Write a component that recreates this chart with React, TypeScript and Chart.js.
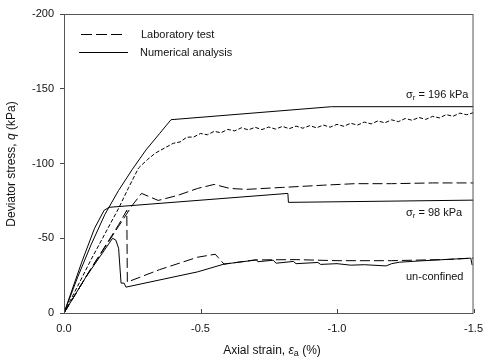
import { useEffect, useRef } from 'react';
import { Chart, registerables } from 'chart.js';
Chart.register(...registerables);

// Axis ticks
const xTickValues = [0, -0.5, -1.0, -1.5];
const yTickValues = [0, -50, -100, -150, -200];

// Numerical analysis, sigma_r = 196 kPa
const num196Strain = [0, -0.05, -0.1, -0.15, -0.2, -0.25, -0.3, -0.35, -0.392, -0.98, -1.5];
const num196Q = [0, -24, -46, -66, -82, -96, -109, -120, -129.3, -138, -138];

// Laboratory test, sigma_r = 196 kPa
const lab196Strain = [0, -0.1, -0.2, -0.237, -0.273, -0.305, -0.335, -0.37, -0.4, -0.425, -0.45, -0.475, -0.5, -0.525, -0.55, -0.575, -0.6, -0.625, -0.65, -0.675, -0.7, -0.725, -0.75, -0.775, -0.8, -0.825, -0.85, -0.875, -0.9, -0.925, -0.95, -0.975, -1.0, -1.025, -1.05, -1.075, -1.1, -1.125, -1.15, -1.175, -1.2, -1.225, -1.25, -1.275, -1.3, -1.325, -1.35, -1.375, -1.4, -1.425, -1.45, -1.475, -1.5];
const lab196Q = [0, -36, -70, -84, -97, -102.5, -107, -110.5, -113.5, -114.4, -117.6, -117.7, -120.1, -119.2, -121.5, -120.6, -122.8, -121.8, -123.9, -122.5, -124.2, -122.7, -124.4, -123.0, -124.8, -123.3, -125.0, -123.6, -125.3, -123.9, -125.7, -124.3, -126.2, -124.9, -126.9, -125.7, -127.7, -126.5, -128.5, -127.2, -129.2, -128.0, -130.1, -128.9, -130.8, -129.5, -131.5, -130.5, -132.7, -131.6, -133.7, -132.6, -134.0];

// Numerical analysis, sigma_r = 98 kPa
const num98Strain = [0, -0.065, -0.112, -0.147, -0.165, -0.82, -0.822, -1.5];
const num98Q = [0, -34, -56.7, -68.7, -70.7, -80, -74, -75.5];

// Laboratory test, sigma_r = 98 kPa
const lab98Strain = [0, -0.1, -0.2, -0.25, -0.284, -0.31, -0.345, -0.417, -0.489, -0.55, -0.608, -0.669, -0.8, -0.95, -1.065, -1.2, -1.35, -1.5];
const lab98Q = [0, -30, -58, -72, -80, -78, -75.3, -78.7, -83.3, -86, -83.3, -82.7, -84, -85.5, -86.5, -86.5, -87, -87];

// Numerical analysis, un-confined
const numUcStrain = [0, -0.08, -0.178, -0.19, -0.2, -0.209, -0.22, -0.227, -0.489, -0.586, -0.705, -0.71, -0.766, -0.777, -0.84, -0.85, -0.93, -0.94, -1.0, -1.05, -1.1, -1.18, -1.2, -1.23, -1.3, -1.4, -1.49, -1.495];
const numUcQ = [0, -24, -50, -48.7, -43.3, -20, -20, -17.3, -27.5, -32.7, -35.5, -34.3, -35.3, -33.3, -34.5, -33, -33.8, -32.5, -33, -32, -32.3, -31.5, -33, -34, -34.8, -35.8, -36.7, -32];

// Laboratory test, un-confined
const labUcStrain = [0, -0.1, -0.2, -0.23, -0.232, -0.35, -0.489, -0.554, -0.586, -0.7, -0.85, -1.0, -1.2, -1.4, -1.5];
const labUcQ = [0, -30, -59, -68.7, -20.7, -29, -37.3, -39.3, -32.7, -35.5, -35.7, -35, -35, -35.8, -36.7];

const FONT = "'Liberation Sans', Arial, sans-serif";

type Part = { t: string; font: string; dy?: number };

function drawRich(ctx: CanvasRenderingContext2D, x: number, y: number, parts: Part[], align: 'left' | 'center') {
  ctx.textBaseline = 'middle';
  ctx.textAlign = 'left';
  let total = 0;
  const widths = parts.map((p) => {
    ctx.font = p.font;
    const w = ctx.measureText(p.t).width;
    total += w;
    return w;
  });
  let cx = align === 'center' ? x - total / 2 : x;
  parts.forEach((p, i) => {
    ctx.font = p.font;
    ctx.fillText(p.t, cx, y + (p.dy || 0));
    cx += widths[i];
  });
}

const decorPlugin = {
  id: 'decor',
  afterDraw(chart: any) {
    const ctx: CanvasRenderingContext2D = chart.ctx;
    const { left, right, top, bottom } = chart.chartArea;
    const xs = chart.scales.x;
    ctx.save();
    // frame
    ctx.strokeStyle = '#555';
    ctx.lineWidth = 1;
    ctx.strokeRect(left + 0.5, top + 0.5, right - left - 1, bottom - top);
    // x ticks (inside)
    ctx.strokeStyle = '#444';
    xTickValues.forEach((v) => {
      const px = Math.round(xs.getPixelForValue(v)) + 0.5;
      ctx.beginPath();
      ctx.moveTo(px, bottom);
      ctx.lineTo(px, bottom - 4);
      ctx.stroke();
    });
    ctx.fillStyle = '#111';
    const n = `11px ${FONT}`;
    const sub = `8px ${FONT}`;
    // curve labels
    drawRich(ctx, 406, 95, [{ t: 'σ', font: n }, { t: 'r', font: sub, dy: 3 }, { t: ' = 196 kPa', font: n }], 'left');
    drawRich(ctx, 406, 213, [{ t: 'σ', font: n }, { t: 'r', font: sub, dy: 3 }, { t: ' = 98 kPa', font: n }], 'left');
    drawRich(ctx, 406, 277, [{ t: 'un-confined', font: n }], 'left');
    // legend
    ctx.strokeStyle = '#000';
    ctx.setLineDash([11, 4]);
    ctx.beginPath();
    ctx.moveTo(81, 34.5);
    ctx.lineTo(126, 34.5);
    ctx.stroke();
    ctx.setLineDash([]);
    ctx.beginPath();
    ctx.moveTo(79, 52.5);
    ctx.lineTo(128, 52.5);
    ctx.stroke();
    drawRich(ctx, 141, 35, [{ t: 'Laboratory test', font: n }], 'left');
    drawRich(ctx, 140, 53, [{ t: 'Numerical analysis', font: n }], 'left');
    // axis titles
    const t = `12px ${FONT}`;
    const ti = `italic 12px ${FONT}`;
    const ts = `9px ${FONT}`;
    drawRich(ctx, 272, 351, [
      { t: 'Axial strain, ', font: t },
      { t: 'ε', font: ti },
      { t: 'a', font: ts, dy: 3 },
      { t: ' (%)', font: t },
    ], 'center');
    ctx.translate(12, 164);
    ctx.rotate(-Math.PI / 2);
    drawRich(ctx, 0, 0, [
      { t: 'Deviator stress, ', font: t },
      { t: 'q', font: ti },
      { t: ' (kPa)', font: t },
    ], 'center');
    ctx.restore();
  },
};

function mk(strain: number[], q: number[], dash: number[]) {
  return {
    data: strain.map((s, i) => ({ x: s, y: q[i] })),
    borderColor: '#000',
    borderWidth: 1,
    borderDash: dash,
    pointRadius: 0,
    tension: 0,
    fill: false,
  };
}

export default function App() {
  const ref = useRef<HTMLCanvasElement>(null);
  useEffect(() => {
    if (!ref.current) return;
    const chart = new Chart(ref.current, {
      type: 'line',
      data: {
        datasets: [
          mk(num196Strain, num196Q, []),
          mk(lab196Strain, lab196Q, [4, 2]),
          mk(num98Strain, num98Q, []),
          mk(lab98Strain, lab98Q, [10, 4]),
          mk(numUcStrain, numUcQ, []),
          mk(labUcStrain, labUcQ, [10, 4]),
        ] as any,
      },
      options: {
        responsive: false,
        animation: false,
        layout: { padding: { left: 0, top: 14, right: 12, bottom: 0 } },
        plugins: { legend: { display: false }, tooltip: { enabled: false } },
        scales: {
          x: {
            type: 'linear',
            min: -1.5,
            max: 0,
            reverse: true,
            afterBuildTicks: (s: any) => {
              s.ticks = xTickValues.map((v) => ({ value: v }));
            },
            afterFit: (s: any) => {
              s.height = 51;
            },
            grid: { display: true, drawOnChartArea: false, drawTicks: false },
            border: { display: false },
            ticks: {
              padding: 9,
              maxRotation: 0,
              autoSkip: false,
              color: '#111',
              font: { family: FONT, size: 11 },
              callback: (v: any) => (Number(v) === 0 ? '0.0' : Number(v).toFixed(1)),
            },
          },
          y: {
            type: 'linear',
            min: -200,
            max: 0,
            reverse: true,
            afterBuildTicks: (s: any) => {
              s.ticks = yTickValues.map((v) => ({ value: v }));
            },
            afterFit: (s: any) => {
              s.width = 64;
            },
            grid: { display: true, drawOnChartArea: false, drawTicks: true, tickLength: 4, color: '#444' },
            border: { display: false },
            ticks: {
              padding: 6,
              color: '#111',
              font: { family: FONT, size: 11 },
              callback: (v: any) => (Number(v) === 0 ? '0' : String(v)),
            },
          },
        },
      },
      plugins: [decorPlugin],
    } as any);
    return () => chart.destroy();
  }, []);
  return (
    <div style={{ position: 'absolute', left: 0, top: 0, width: 492, height: 364 }}>
      <canvas ref={ref} width={492} height={364} style={{ width: 492, height: 364 }} />
    </div>
  );
}
